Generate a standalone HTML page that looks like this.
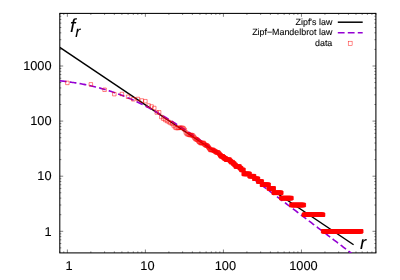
<!DOCTYPE html>
<html><head><meta charset="utf-8"><style>
html,body{margin:0;padding:0;background:#fff;}
svg{display:block}
text{font-family:"Liberation Sans",sans-serif;fill:#000;text-rendering:geometricPrecision;stroke:#000;stroke-width:0.1px}
svg{will-change:transform;opacity:0.999}
</style></head><body>
<svg width="400" height="280" viewBox="0 0 400 280">
<rect width="400" height="280" fill="#fff"/>
<path d="M59.80 247.89h1.5M375.90 247.89h-1.5M59.80 243.52h1.5M375.90 243.52h-1.5M59.80 239.84h1.5M375.90 239.84h-1.5M59.80 252.90v-1.5M59.80 13.40v1.5M59.80 236.64h1.5M375.90 236.64h-1.5M63.79 252.90v-1.5M63.79 13.40v1.5M59.80 233.82h1.5M375.90 233.82h-1.5M67.36 252.90v-3.4M67.36 13.40v3.4M59.80 231.30h3.4M375.90 231.30h-3.4M90.85 252.90v-1.5M90.85 13.40v1.5M59.80 214.71h1.5M375.90 214.71h-1.5M104.59 252.90v-1.5M104.59 13.40v1.5M59.80 205.01h1.5M375.90 205.01h-1.5M114.34 252.90v-1.5M114.34 13.40v1.5M59.80 198.13h1.5M375.90 198.13h-1.5M121.90 252.90v-1.5M121.90 13.40v1.5M59.80 192.79h1.5M375.90 192.79h-1.5M128.08 252.90v-1.5M128.08 13.40v1.5M59.80 188.42h1.5M375.90 188.42h-1.5M133.30 252.90v-1.5M133.30 13.40v1.5M59.80 184.74h1.5M375.90 184.74h-1.5M137.83 252.90v-1.5M137.83 13.40v1.5M59.80 181.54h1.5M375.90 181.54h-1.5M141.82 252.90v-1.5M141.82 13.40v1.5M59.80 178.72h1.5M375.90 178.72h-1.5M145.39 252.90v-3.4M145.39 13.40v3.4M59.80 176.20h3.4M375.90 176.20h-3.4M168.88 252.90v-1.5M168.88 13.40v1.5M59.80 159.61h1.5M375.90 159.61h-1.5M182.62 252.90v-1.5M182.62 13.40v1.5M59.80 149.91h1.5M375.90 149.91h-1.5M192.37 252.90v-1.5M192.37 13.40v1.5M59.80 143.03h1.5M375.90 143.03h-1.5M199.93 252.90v-1.5M199.93 13.40v1.5M59.80 137.69h1.5M375.90 137.69h-1.5M206.11 252.90v-1.5M206.11 13.40v1.5M59.80 133.32h1.5M375.90 133.32h-1.5M211.33 252.90v-1.5M211.33 13.40v1.5M59.80 129.64h1.5M375.90 129.64h-1.5M215.86 252.90v-1.5M215.86 13.40v1.5M59.80 126.44h1.5M375.90 126.44h-1.5M219.85 252.90v-1.5M219.85 13.40v1.5M59.80 123.62h1.5M375.90 123.62h-1.5M223.42 252.90v-3.4M223.42 13.40v3.4M59.80 121.10h3.4M375.90 121.10h-3.4M246.91 252.90v-1.5M246.91 13.40v1.5M59.80 104.51h1.5M375.90 104.51h-1.5M260.65 252.90v-1.5M260.65 13.40v1.5M59.80 94.81h1.5M375.90 94.81h-1.5M270.40 252.90v-1.5M270.40 13.40v1.5M59.80 87.93h1.5M375.90 87.93h-1.5M277.96 252.90v-1.5M277.96 13.40v1.5M59.80 82.59h1.5M375.90 82.59h-1.5M284.14 252.90v-1.5M284.14 13.40v1.5M59.80 78.22h1.5M375.90 78.22h-1.5M289.36 252.90v-1.5M289.36 13.40v1.5M59.80 74.54h1.5M375.90 74.54h-1.5M293.89 252.90v-1.5M293.89 13.40v1.5M59.80 71.34h1.5M375.90 71.34h-1.5M297.88 252.90v-1.5M297.88 13.40v1.5M59.80 68.52h1.5M375.90 68.52h-1.5M301.45 252.90v-3.4M301.45 13.40v3.4M59.80 66.00h3.4M375.90 66.00h-3.4M324.94 252.90v-1.5M324.94 13.40v1.5M59.80 49.41h1.5M375.90 49.41h-1.5M338.68 252.90v-1.5M338.68 13.40v1.5M59.80 39.71h1.5M375.90 39.71h-1.5M348.43 252.90v-1.5M348.43 13.40v1.5M59.80 32.83h1.5M375.90 32.83h-1.5M355.99 252.90v-1.5M355.99 13.40v1.5M59.80 27.49h1.5M375.90 27.49h-1.5M362.17 252.90v-1.5M362.17 13.40v1.5M59.80 23.12h1.5M375.90 23.12h-1.5M367.39 252.90v-1.5M367.39 13.40v1.5M59.80 19.44h1.5M375.90 19.44h-1.5M371.92 252.90v-1.5M371.92 13.40v1.5M59.80 16.24h1.5M375.90 16.24h-1.5M375.91 252.90v-1.5M375.91 13.40v1.5M59.80 13.42h1.5M375.90 13.42h-1.5" stroke="#000" stroke-width="0.5" fill="none"/>
<rect x="59.8" y="13.4" width="316.10" height="239.50" fill="none" stroke="#000" stroke-width="1.05"/>
<g font-size="12.8" text-anchor="end">
<text x="51.6" y="70.20">1000</text>
<text x="51.6" y="125.30">100</text>
<text x="51.6" y="180.40">10</text>
<text x="51.6" y="235.50">1</text>
</g>
<g font-size="12.8" text-anchor="middle">
<text x="69.16" y="270.4">1</text>
<text x="147.39" y="270.4">10</text>
<text x="225.42" y="270.4">100</text>
<text x="303.45" y="270.4">1000</text>
</g>
<clipPath id="c"><rect x="59.8" y="13.4" width="316.10" height="239.50"/></clipPath>
<g clip-path="url(#c)">
<path d="M59.8 47.35L353.6 244.75" stroke="#000" stroke-width="1.5" fill="none"/>
<path d="M59.80 80.79L60.85 80.91L61.91 81.03L62.96 81.15L64.01 81.28L65.07 81.41L66.12 81.54L67.17 81.68L68.23 81.82L69.28 81.97L70.34 82.11L71.39 82.27L72.44 82.42L73.50 82.58L74.55 82.74L75.60 82.91L76.66 83.08L77.71 83.26L78.76 83.44L79.82 83.63L80.87 83.82L81.93 84.01L82.98 84.21L84.03 84.41L85.09 84.62L86.14 84.83L87.19 85.05L88.25 85.27L89.30 85.50L90.36 85.73L91.41 85.97L92.46 86.22L93.52 86.46L94.57 86.72L95.62 86.98L96.68 87.24L97.73 87.51L98.79 87.79L99.84 88.07L100.89 88.36L101.95 88.65L103.00 88.95L104.05 89.26L105.11 89.57L106.16 89.88L107.21 90.21L108.27 90.54L109.32 90.87L110.38 91.21L111.43 91.56L112.48 91.91L113.54 92.27L114.59 92.64L115.64 93.01L116.70 93.39L117.75 93.77L118.81 94.16L119.86 94.56L120.91 94.96L121.97 95.37L123.02 95.79L124.07 96.21L125.13 96.64L126.18 97.07L127.24 97.51L128.29 97.96L129.34 98.41L130.40 98.87L131.45 99.34L132.50 99.81L133.56 100.28L134.61 100.77L135.66 101.26L136.72 101.75L137.77 102.25L138.83 102.76L139.88 103.27L140.93 103.79L141.99 104.31L143.04 104.84L144.09 105.38L145.15 105.92L146.20 106.47L147.26 107.02L148.31 107.58L149.36 108.14L150.42 108.71L151.47 109.28L152.52 109.86L153.58 110.44L154.63 111.03L155.69 111.62L156.74 112.22L157.79 112.82L158.85 113.43L159.90 114.04L160.95 114.66L162.01 115.28L163.06 115.90L164.11 116.53L165.17 117.16L166.22 117.80L167.28 118.44L168.33 119.09L169.38 119.74L170.44 120.39L171.49 121.05L172.54 121.71L173.60 122.37L174.65 123.04L175.71 123.71L176.76 124.39L177.81 125.07L178.87 125.75L179.92 126.43L180.97 127.12L182.03 127.81L183.08 128.51L184.14 129.20L185.19 129.90L186.24 130.61L187.30 131.31L188.35 132.02L189.40 132.73L190.46 133.44L191.51 134.16L192.56 134.88L193.62 135.60L194.67 136.32L195.73 137.05L196.78 137.77L197.83 138.50L198.89 139.23L199.94 139.97L200.99 140.70L202.05 141.44L203.10 142.18L204.16 142.92L205.21 143.66L206.26 144.41L207.32 145.15L208.37 145.90L209.42 146.65L210.48 147.40L211.53 148.15L212.59 148.91L213.64 149.66L214.69 150.42L215.75 151.18L216.80 151.94L217.85 152.70L218.91 153.46L219.96 154.23L221.01 154.99L222.07 155.76L223.12 156.52L224.18 157.29L225.23 158.06L226.28 158.83L227.34 159.60L228.39 160.37L229.44 161.15L230.50 161.92L231.55 162.70L232.61 163.47L233.66 164.25L234.71 165.03L235.77 165.80L236.82 166.58L237.87 167.36L238.93 168.14L239.98 168.92L241.04 169.71L242.09 170.49L243.14 171.27L244.20 172.06L245.25 172.84L246.30 173.62L247.36 174.41L248.41 175.20L249.46 175.98L250.52 176.77L251.57 177.56L252.63 178.35L253.68 179.14L254.73 179.92L255.79 180.71L256.84 181.50L257.89 182.29L258.95 183.09L260.00 183.88L261.06 184.67L262.11 185.46L263.16 186.25L264.22 187.05L265.27 187.84L266.32 188.63L267.38 189.43L268.43 190.22L269.49 191.02L270.54 191.81L271.59 192.60L272.65 193.40L273.70 194.20L274.75 194.99L275.81 195.79L276.86 196.58L277.91 197.38L278.97 198.18L280.02 198.97L281.08 199.77L282.13 200.57L283.18 201.37L284.24 202.17L285.29 202.96L286.34 203.76L287.40 204.56L288.45 205.36L289.51 206.16L290.56 206.96L291.61 207.76L292.67 208.56L293.72 209.35L294.77 210.15L295.83 210.95L296.88 211.75L297.94 212.55L298.99 213.35L300.04 214.15L301.10 214.95L302.15 215.76L303.20 216.56L304.26 217.36L305.31 218.16L306.37 218.96L307.42 219.76L308.47 220.56L309.53 221.36L310.58 222.16L311.63 222.97L312.69 223.77L313.74 224.57L314.79 225.37L315.85 226.17L316.90 226.97L317.96 227.78L319.01 228.58L320.06 229.38L321.12 230.18L322.17 230.98L323.22 231.79L324.28 232.59L325.33 233.39L326.39 234.19L327.44 235.00L328.49 235.80L329.55 236.60L330.60 237.40L331.65 238.21L332.71 239.01L333.76 239.81L334.82 240.62L335.87 241.42L336.92 242.22L337.98 243.02L339.03 243.83L340.08 244.63L341.14 245.43L342.19 246.24L343.24 247.04L344.30 247.84L345.35 248.65L346.41 249.45L347.46 250.25L348.51 251.06L349.57 251.86L350.62 252.66L351.67 253.47L352.73 254.27L353.78 255.07L354.84 255.88L355.89 256.68L356.94 257.48L358.00 258.29L359.05 259.09L360.10 259.90L361.16 260.70L362.21 261.50L363.27 262.31L364.32 263.11L365.37 263.91L366.43 264.72L367.48 265.52L368.53 266.32L369.59 267.13L370.64 267.93L371.69 268.74L372.75 269.54L373.80 270.34L374.86 271.15L375.91 271.95" stroke="#9400d3" stroke-width="1.6" fill="none" stroke-dasharray="6.8 3.19"/>
<path d="M218.47 153.50H222.34V157.00H218.47zM219.21 154.52H224.49V158.02H219.21zM221.33 155.58H225.84V159.08H221.33zM222.67 156.70H227.46V160.20H222.67zM224.28 157.86H231.35V161.36H224.28zM228.13 159.09H232.46V162.59H228.13zM229.23 160.38H234.58V163.88H229.23zM231.33 161.75H236.08V165.25H231.33zM232.83 163.20H237.29V166.70H232.83zM234.03 164.75H241.31V168.25H234.03zM238.02 166.40H242.95V169.90H238.02zM239.65 168.17H245.28V171.67H239.65zM241.96 172.17H251.27V175.67H241.96zM247.92 174.45H255.95V177.95H247.92zM252.59 176.97H259.82V180.47H252.59zM256.44 179.79H263.62V183.29H256.44zM260.23 182.99H270.41V186.49H260.23zM267.00 186.67H275.46V190.17H267.00zM272.03 191.04H283.06V194.54H272.03zM279.62 196.38H293.22V199.88H279.62zM289.77 203.26H305.65V206.76H289.77zM302.18 212.96H324.90V216.46H302.18zM321.42 229.55H362.91V233.05H321.42z" fill="#ff0000" stroke="#ff0000" stroke-width="0.5"/>
<path d="M65.61 81.15h3.5v3.5h-3.5zM89.10 82.60h3.5v3.5h-3.5zM102.84 88.00h3.5v3.5h-3.5zM112.59 92.40h3.5v3.5h-3.5zM120.15 92.25h3.5v3.5h-3.5zM126.33 95.00h3.5v3.5h-3.5zM131.55 97.55h3.5v3.5h-3.5zM136.08 97.25h3.5v3.5h-3.5zM140.07 98.75h3.5v3.5h-3.5zM143.64 99.45h3.5v3.5h-3.5zM146.87 103.75h3.5v3.5h-3.5zM149.82 104.75h3.5v3.5h-3.5zM152.53 106.25h3.5v3.5h-3.5zM155.04 110.75h3.5v3.5h-3.5zM157.38 110.55h3.5v3.5h-3.5zM159.57 115.25h3.5v3.5h-3.5zM161.62 116.95h3.5v3.5h-3.5zM163.56 118.25h3.5v3.5h-3.5zM165.39 119.25h3.5v3.5h-3.5zM167.13 120.25h3.5v3.5h-3.5zM168.78 121.25h3.5v3.5h-3.5zM170.36 121.85h3.5v3.5h-3.5zM171.87 123.75h3.5v3.5h-3.5zM173.31 125.55h3.5v3.5h-3.5zM174.69 126.25h3.5v3.5h-3.5zM176.02 126.25h3.5v3.5h-3.5zM177.30 126.05h3.5v3.5h-3.5zM178.53 126.05h3.5v3.5h-3.5zM179.72 126.05h3.5v3.5h-3.5zM180.87 126.05h3.5v3.5h-3.5zM181.98 126.85h3.5v3.5h-3.5zM183.06 128.25h3.5v3.5h-3.5zM184.10 130.75h3.5v3.5h-3.5zM185.11 132.25h3.5v3.5h-3.5zM186.09 132.55h3.5v3.5h-3.5zM187.05 132.85h3.5v3.5h-3.5zM187.98 133.25h3.5v3.5h-3.5zM188.88 133.25h3.5v3.5h-3.5zM189.76 133.25h3.5v3.5h-3.5zM190.62 133.66h3.5v3.5h-3.5zM191.46 134.10h3.5v3.5h-3.5zM192.27 135.46h3.5v3.5h-3.5zM193.07 136.42h3.5v3.5h-3.5zM193.85 137.42h3.5v3.5h-3.5zM194.61 137.42h3.5v3.5h-3.5zM195.35 137.93h3.5v3.5h-3.5zM196.08 138.46h3.5v3.5h-3.5zM196.80 139.55h3.5v3.5h-3.5zM197.50 140.11h3.5v3.5h-3.5zM198.18 140.69h3.5v3.5h-3.5zM198.85 141.28h3.5v3.5h-3.5zM199.51 141.28h3.5v3.5h-3.5zM200.16 141.28h3.5v3.5h-3.5zM200.79 141.28h3.5v3.5h-3.5zM201.41 141.28h3.5v3.5h-3.5zM202.02 141.28h3.5v3.5h-3.5zM202.62 142.50h3.5v3.5h-3.5zM203.21 143.14h3.5v3.5h-3.5zM203.79 143.14h3.5v3.5h-3.5zM204.36 143.80h3.5v3.5h-3.5zM204.92 143.80h3.5v3.5h-3.5zM205.47 143.80h3.5v3.5h-3.5zM206.01 144.47h3.5v3.5h-3.5zM206.55 145.17h3.5v3.5h-3.5zM207.07 145.88h3.5v3.5h-3.5zM207.59 146.62h3.5v3.5h-3.5zM208.10 147.38h3.5v3.5h-3.5zM208.60 148.16h3.5v3.5h-3.5zM209.10 148.16h3.5v3.5h-3.5zM209.58 148.16h3.5v3.5h-3.5zM210.06 148.16h3.5v3.5h-3.5zM210.54 148.16h3.5v3.5h-3.5zM211.01 148.16h3.5v3.5h-3.5zM211.47 148.16h3.5v3.5h-3.5zM211.92 148.97h3.5v3.5h-3.5zM212.37 148.97h3.5v3.5h-3.5zM212.81 148.97h3.5v3.5h-3.5zM213.25 149.81h3.5v3.5h-3.5zM213.68 149.81h3.5v3.5h-3.5zM214.11 149.81h3.5v3.5h-3.5zM214.53 150.68h3.5v3.5h-3.5zM214.94 150.68h3.5v3.5h-3.5zM215.36 150.68h3.5v3.5h-3.5zM215.76 150.68h3.5v3.5h-3.5zM216.16 150.68h3.5v3.5h-3.5zM216.56 150.68h3.5v3.5h-3.5zM216.95 151.58h3.5v3.5h-3.5zM217.34 151.58h3.5v3.5h-3.5zM217.72 152.52h3.5v3.5h-3.5zM218.10 152.52h3.5v3.5h-3.5zM218.47 153.50h3.5v3.5h-3.5zM218.84 153.50h3.5v3.5h-3.5zM219.21 154.52h3.5v3.5h-3.5zM219.57 154.52h3.5v3.5h-3.5zM219.93 154.52h3.5v3.5h-3.5zM220.29 154.52h3.5v3.5h-3.5zM220.64 154.52h3.5v3.5h-3.5zM220.99 154.52h3.5v3.5h-3.5zM221.33 155.58h3.5v3.5h-3.5zM221.67 155.58h3.5v3.5h-3.5zM222.01 155.58h3.5v3.5h-3.5zM222.34 155.58h3.5v3.5h-3.5zM222.67 156.70h3.5v3.5h-3.5zM223.00 156.70h3.5v3.5h-3.5zM223.32 156.70h3.5v3.5h-3.5zM223.64 156.70h3.5v3.5h-3.5zM223.96 156.70h3.5v3.5h-3.5zM224.28 157.86h3.5v3.5h-3.5zM224.59 157.86h3.5v3.5h-3.5zM224.90 157.86h3.5v3.5h-3.5zM225.21 157.86h3.5v3.5h-3.5zM225.51 157.86h3.5v3.5h-3.5zM225.81 157.86h3.5v3.5h-3.5zM226.41 157.86h3.5v3.5h-3.5zM226.99 157.86h3.5v3.5h-3.5zM227.56 157.86h3.5v3.5h-3.5zM228.13 159.09h3.5v3.5h-3.5zM228.69 159.09h3.5v3.5h-3.5zM229.23 160.38h3.5v3.5h-3.5zM229.77 160.38h3.5v3.5h-3.5zM230.30 160.38h3.5v3.5h-3.5zM230.82 160.38h3.5v3.5h-3.5zM231.33 161.75h3.5v3.5h-3.5zM231.84 161.75h3.5v3.5h-3.5zM232.34 161.75h3.5v3.5h-3.5zM232.83 163.20h3.5v3.5h-3.5zM233.31 163.20h3.5v3.5h-3.5zM233.79 163.20h3.5v3.5h-3.5zM234.03 164.75h3.5v3.5h-3.5zM234.49 164.75h3.5v3.5h-3.5zM234.96 164.75h3.5v3.5h-3.5zM235.41 164.75h3.5v3.5h-3.5zM235.86 164.75h3.5v3.5h-3.5zM236.30 164.75h3.5v3.5h-3.5zM236.74 164.75h3.5v3.5h-3.5zM237.17 164.75h3.5v3.5h-3.5zM237.60 164.75h3.5v3.5h-3.5zM238.02 166.40h3.5v3.5h-3.5zM238.43 166.40h3.5v3.5h-3.5zM238.85 166.40h3.5v3.5h-3.5zM239.25 166.40h3.5v3.5h-3.5zM239.65 168.17h3.5v3.5h-3.5zM240.05 168.17h3.5v3.5h-3.5zM240.44 168.17h3.5v3.5h-3.5zM240.83 168.17h3.5v3.5h-3.5zM241.21 168.17h3.5v3.5h-3.5zM241.59 168.17h3.5v3.5h-3.5zM241.96 172.17h3.5v3.5h-3.5zM242.33 172.17h3.5v3.5h-3.5zM242.70 172.17h3.5v3.5h-3.5zM243.06 172.17h3.5v3.5h-3.5zM243.42 172.17h3.5v3.5h-3.5zM243.78 172.17h3.5v3.5h-3.5zM244.13 172.17h3.5v3.5h-3.5zM244.47 172.17h3.5v3.5h-3.5zM244.82 172.17h3.5v3.5h-3.5zM245.16 172.17h3.5v3.5h-3.5zM245.50 172.17h3.5v3.5h-3.5zM245.83 172.17h3.5v3.5h-3.5zM246.16 172.17h3.5v3.5h-3.5zM246.49 172.17h3.5v3.5h-3.5zM246.81 172.17h3.5v3.5h-3.5zM247.13 172.17h3.5v3.5h-3.5zM247.45 172.17h3.5v3.5h-3.5zM247.77 172.17h3.5v3.5h-3.5zM247.92 174.45h3.5v3.5h-3.5zM248.23 174.45h3.5v3.5h-3.5zM248.54 174.45h3.5v3.5h-3.5zM248.85 174.45h3.5v3.5h-3.5zM249.15 174.45h3.5v3.5h-3.5zM249.60 174.45h3.5v3.5h-3.5zM250.04 174.45h3.5v3.5h-3.5zM250.48 174.45h3.5v3.5h-3.5zM250.91 174.45h3.5v3.5h-3.5zM251.34 174.45h3.5v3.5h-3.5zM251.76 174.45h3.5v3.5h-3.5zM252.17 174.45h3.5v3.5h-3.5zM252.59 176.97h3.5v3.5h-3.5zM252.99 176.97h3.5v3.5h-3.5zM253.39 176.97h3.5v3.5h-3.5zM253.79 176.97h3.5v3.5h-3.5zM254.18 176.97h3.5v3.5h-3.5zM254.57 176.97h3.5v3.5h-3.5zM254.95 176.97h3.5v3.5h-3.5zM255.33 176.97h3.5v3.5h-3.5zM255.70 176.97h3.5v3.5h-3.5zM256.07 176.97h3.5v3.5h-3.5zM256.44 179.79h3.5v3.5h-3.5zM256.80 179.79h3.5v3.5h-3.5zM257.16 179.79h3.5v3.5h-3.5zM257.52 179.79h3.5v3.5h-3.5zM257.87 179.79h3.5v3.5h-3.5zM258.22 179.79h3.5v3.5h-3.5zM258.56 179.79h3.5v3.5h-3.5zM258.90 179.79h3.5v3.5h-3.5zM259.24 179.79h3.5v3.5h-3.5zM259.57 179.79h3.5v3.5h-3.5zM259.90 179.79h3.5v3.5h-3.5zM260.23 182.99h3.5v3.5h-3.5zM260.55 182.99h3.5v3.5h-3.5zM260.87 182.99h3.5v3.5h-3.5zM261.19 182.99h3.5v3.5h-3.5zM261.51 182.99h3.5v3.5h-3.5zM261.82 182.99h3.5v3.5h-3.5zM262.13 182.99h3.5v3.5h-3.5zM262.44 182.99h3.5v3.5h-3.5zM262.74 182.99h3.5v3.5h-3.5zM263.04 182.99h3.5v3.5h-3.5zM263.44 182.99h3.5v3.5h-3.5zM263.83 182.99h3.5v3.5h-3.5zM264.22 182.99h3.5v3.5h-3.5zM264.60 182.99h3.5v3.5h-3.5zM264.98 182.99h3.5v3.5h-3.5zM265.36 182.99h3.5v3.5h-3.5zM265.73 182.99h3.5v3.5h-3.5zM266.10 182.99h3.5v3.5h-3.5zM266.46 182.99h3.5v3.5h-3.5zM266.82 182.99h3.5v3.5h-3.5zM267.00 186.67h3.5v3.5h-3.5zM267.35 186.67h3.5v3.5h-3.5zM267.70 186.67h3.5v3.5h-3.5zM268.05 186.67h3.5v3.5h-3.5zM268.39 186.67h3.5v3.5h-3.5zM268.73 186.67h3.5v3.5h-3.5zM269.07 186.67h3.5v3.5h-3.5zM269.40 186.67h3.5v3.5h-3.5zM269.73 186.67h3.5v3.5h-3.5zM270.06 186.67h3.5v3.5h-3.5zM270.38 186.67h3.5v3.5h-3.5zM270.70 186.67h3.5v3.5h-3.5zM271.02 186.67h3.5v3.5h-3.5zM271.34 186.67h3.5v3.5h-3.5zM271.65 186.67h3.5v3.5h-3.5zM271.96 186.67h3.5v3.5h-3.5zM272.03 191.04h3.5v3.5h-3.5zM272.34 191.04h3.5v3.5h-3.5zM272.64 191.04h3.5v3.5h-3.5zM273.01 191.04h3.5v3.5h-3.5zM273.38 191.04h3.5v3.5h-3.5zM273.75 191.04h3.5v3.5h-3.5zM274.11 191.04h3.5v3.5h-3.5zM274.47 191.04h3.5v3.5h-3.5zM274.83 191.04h3.5v3.5h-3.5zM275.18 191.04h3.5v3.5h-3.5zM275.53 191.04h3.5v3.5h-3.5zM275.87 191.04h3.5v3.5h-3.5zM276.21 191.04h3.5v3.5h-3.5zM276.55 191.04h3.5v3.5h-3.5zM276.88 191.04h3.5v3.5h-3.5zM277.21 191.04h3.5v3.5h-3.5zM277.54 191.04h3.5v3.5h-3.5zM277.86 191.04h3.5v3.5h-3.5zM278.19 191.04h3.5v3.5h-3.5zM278.50 191.04h3.5v3.5h-3.5zM278.82 191.04h3.5v3.5h-3.5zM279.13 191.04h3.5v3.5h-3.5zM279.44 191.04h3.5v3.5h-3.5zM279.62 196.38h3.5v3.5h-3.5zM279.93 196.38h3.5v3.5h-3.5zM280.23 196.38h3.5v3.5h-3.5zM280.59 196.38h3.5v3.5h-3.5zM280.95 196.38h3.5v3.5h-3.5zM281.30 196.38h3.5v3.5h-3.5zM281.65 196.38h3.5v3.5h-3.5zM281.99 196.38h3.5v3.5h-3.5zM282.33 196.38h3.5v3.5h-3.5zM282.67 196.38h3.5v3.5h-3.5zM283.00 196.38h3.5v3.5h-3.5zM283.34 196.38h3.5v3.5h-3.5zM283.66 196.38h3.5v3.5h-3.5zM283.99 196.38h3.5v3.5h-3.5zM284.31 196.38h3.5v3.5h-3.5zM284.63 196.38h3.5v3.5h-3.5zM284.94 196.38h3.5v3.5h-3.5zM285.26 196.38h3.5v3.5h-3.5zM285.57 196.38h3.5v3.5h-3.5zM285.87 196.38h3.5v3.5h-3.5zM286.18 196.38h3.5v3.5h-3.5zM286.48 196.38h3.5v3.5h-3.5zM286.83 196.38h3.5v3.5h-3.5zM287.17 196.38h3.5v3.5h-3.5zM287.52 196.38h3.5v3.5h-3.5zM287.85 196.38h3.5v3.5h-3.5zM288.19 196.38h3.5v3.5h-3.5zM288.52 196.38h3.5v3.5h-3.5zM288.85 196.38h3.5v3.5h-3.5zM289.17 196.38h3.5v3.5h-3.5zM289.50 196.38h3.5v3.5h-3.5zM289.77 203.26h3.5v3.5h-3.5zM290.09 203.26h3.5v3.5h-3.5zM290.40 203.26h3.5v3.5h-3.5zM290.71 203.26h3.5v3.5h-3.5zM291.02 203.26h3.5v3.5h-3.5zM291.32 203.26h3.5v3.5h-3.5zM291.63 203.26h3.5v3.5h-3.5zM291.97 203.26h3.5v3.5h-3.5zM292.31 203.26h3.5v3.5h-3.5zM292.64 203.26h3.5v3.5h-3.5zM292.97 203.26h3.5v3.5h-3.5zM293.30 203.26h3.5v3.5h-3.5zM293.63 203.26h3.5v3.5h-3.5zM293.95 203.26h3.5v3.5h-3.5zM294.27 203.26h3.5v3.5h-3.5zM294.59 203.26h3.5v3.5h-3.5zM294.90 203.26h3.5v3.5h-3.5zM295.21 203.26h3.5v3.5h-3.5zM295.52 203.26h3.5v3.5h-3.5zM295.83 203.26h3.5v3.5h-3.5zM296.13 203.26h3.5v3.5h-3.5zM296.47 203.26h3.5v3.5h-3.5zM296.80 203.26h3.5v3.5h-3.5zM297.13 203.26h3.5v3.5h-3.5zM297.46 203.26h3.5v3.5h-3.5zM297.78 203.26h3.5v3.5h-3.5zM298.10 203.26h3.5v3.5h-3.5zM298.42 203.26h3.5v3.5h-3.5zM298.74 203.26h3.5v3.5h-3.5zM299.05 203.26h3.5v3.5h-3.5zM299.36 203.26h3.5v3.5h-3.5zM299.67 203.26h3.5v3.5h-3.5zM299.97 203.26h3.5v3.5h-3.5zM300.27 203.26h3.5v3.5h-3.5zM300.60 203.26h3.5v3.5h-3.5zM300.93 203.26h3.5v3.5h-3.5zM301.26 203.26h3.5v3.5h-3.5zM301.58 203.26h3.5v3.5h-3.5zM301.90 203.26h3.5v3.5h-3.5zM302.18 212.96h3.5v3.5h-3.5zM302.50 212.96h3.5v3.5h-3.5zM302.81 212.96h3.5v3.5h-3.5zM303.11 212.96h3.5v3.5h-3.5zM303.42 212.96h3.5v3.5h-3.5zM303.72 212.96h3.5v3.5h-3.5zM304.05 212.96h3.5v3.5h-3.5zM304.38 212.96h3.5v3.5h-3.5zM304.70 212.96h3.5v3.5h-3.5zM305.02 212.96h3.5v3.5h-3.5zM305.34 212.96h3.5v3.5h-3.5zM305.65 212.96h3.5v3.5h-3.5zM305.96 212.96h3.5v3.5h-3.5zM306.27 212.96h3.5v3.5h-3.5zM306.58 212.96h3.5v3.5h-3.5zM306.88 212.96h3.5v3.5h-3.5zM307.18 212.96h3.5v3.5h-3.5zM307.51 212.96h3.5v3.5h-3.5zM307.83 212.96h3.5v3.5h-3.5zM308.14 212.96h3.5v3.5h-3.5zM308.46 212.96h3.5v3.5h-3.5zM308.77 212.96h3.5v3.5h-3.5zM309.08 212.96h3.5v3.5h-3.5zM309.39 212.96h3.5v3.5h-3.5zM309.69 212.96h3.5v3.5h-3.5zM310.00 212.96h3.5v3.5h-3.5zM310.32 212.96h3.5v3.5h-3.5zM310.64 212.96h3.5v3.5h-3.5zM310.96 212.96h3.5v3.5h-3.5zM311.27 212.96h3.5v3.5h-3.5zM311.58 212.96h3.5v3.5h-3.5zM311.89 212.96h3.5v3.5h-3.5zM312.20 212.96h3.5v3.5h-3.5zM312.50 212.96h3.5v3.5h-3.5zM312.80 212.96h3.5v3.5h-3.5zM313.12 212.96h3.5v3.5h-3.5zM313.44 212.96h3.5v3.5h-3.5zM313.76 212.96h3.5v3.5h-3.5zM314.07 212.96h3.5v3.5h-3.5zM314.38 212.96h3.5v3.5h-3.5zM314.68 212.96h3.5v3.5h-3.5zM314.99 212.96h3.5v3.5h-3.5zM315.29 212.96h3.5v3.5h-3.5zM315.61 212.96h3.5v3.5h-3.5zM315.92 212.96h3.5v3.5h-3.5zM316.24 212.96h3.5v3.5h-3.5zM316.55 212.96h3.5v3.5h-3.5zM316.85 212.96h3.5v3.5h-3.5zM317.16 212.96h3.5v3.5h-3.5zM317.46 212.96h3.5v3.5h-3.5zM317.78 212.96h3.5v3.5h-3.5zM318.10 212.96h3.5v3.5h-3.5zM318.41 212.96h3.5v3.5h-3.5zM318.72 212.96h3.5v3.5h-3.5zM319.03 212.96h3.5v3.5h-3.5zM319.34 212.96h3.5v3.5h-3.5zM319.64 212.96h3.5v3.5h-3.5zM319.96 212.96h3.5v3.5h-3.5zM320.27 212.96h3.5v3.5h-3.5zM320.58 212.96h3.5v3.5h-3.5zM320.89 212.96h3.5v3.5h-3.5zM321.20 212.96h3.5v3.5h-3.5zM321.42 229.55h3.5v3.5h-3.5zM321.72 229.55h3.5v3.5h-3.5zM322.03 229.55h3.5v3.5h-3.5zM322.35 229.55h3.5v3.5h-3.5zM322.66 229.55h3.5v3.5h-3.5zM322.97 229.55h3.5v3.5h-3.5zM323.27 229.55h3.5v3.5h-3.5zM323.58 229.55h3.5v3.5h-3.5zM323.88 229.55h3.5v3.5h-3.5zM324.19 229.55h3.5v3.5h-3.5zM324.50 229.55h3.5v3.5h-3.5zM324.81 229.55h3.5v3.5h-3.5zM325.12 229.55h3.5v3.5h-3.5zM325.42 229.55h3.5v3.5h-3.5zM325.72 229.55h3.5v3.5h-3.5zM326.03 229.55h3.5v3.5h-3.5zM326.34 229.55h3.5v3.5h-3.5zM326.65 229.55h3.5v3.5h-3.5zM326.95 229.55h3.5v3.5h-3.5zM327.26 229.55h3.5v3.5h-3.5zM327.57 229.55h3.5v3.5h-3.5zM327.88 229.55h3.5v3.5h-3.5zM328.19 229.55h3.5v3.5h-3.5zM328.50 229.55h3.5v3.5h-3.5zM328.80 229.55h3.5v3.5h-3.5zM329.10 229.55h3.5v3.5h-3.5zM329.41 229.55h3.5v3.5h-3.5zM329.72 229.55h3.5v3.5h-3.5zM330.03 229.55h3.5v3.5h-3.5zM330.33 229.55h3.5v3.5h-3.5zM330.63 229.55h3.5v3.5h-3.5zM330.94 229.55h3.5v3.5h-3.5zM331.25 229.55h3.5v3.5h-3.5zM331.55 229.55h3.5v3.5h-3.5zM331.86 229.55h3.5v3.5h-3.5zM332.16 229.55h3.5v3.5h-3.5zM332.47 229.55h3.5v3.5h-3.5zM332.78 229.55h3.5v3.5h-3.5zM333.08 229.55h3.5v3.5h-3.5zM333.38 229.55h3.5v3.5h-3.5zM333.70 229.55h3.5v3.5h-3.5zM334.01 229.55h3.5v3.5h-3.5zM334.31 229.55h3.5v3.5h-3.5zM334.62 229.55h3.5v3.5h-3.5zM334.92 229.55h3.5v3.5h-3.5zM335.23 229.55h3.5v3.5h-3.5zM335.53 229.55h3.5v3.5h-3.5zM335.84 229.55h3.5v3.5h-3.5zM336.14 229.55h3.5v3.5h-3.5zM336.45 229.55h3.5v3.5h-3.5zM336.76 229.55h3.5v3.5h-3.5zM337.07 229.55h3.5v3.5h-3.5zM337.37 229.55h3.5v3.5h-3.5zM337.68 229.55h3.5v3.5h-3.5zM337.99 229.55h3.5v3.5h-3.5zM338.29 229.55h3.5v3.5h-3.5zM338.59 229.55h3.5v3.5h-3.5zM338.90 229.55h3.5v3.5h-3.5zM339.21 229.55h3.5v3.5h-3.5zM339.52 229.55h3.5v3.5h-3.5zM339.82 229.55h3.5v3.5h-3.5zM340.13 229.55h3.5v3.5h-3.5zM340.44 229.55h3.5v3.5h-3.5zM340.74 229.55h3.5v3.5h-3.5zM341.04 229.55h3.5v3.5h-3.5zM341.35 229.55h3.5v3.5h-3.5zM341.66 229.55h3.5v3.5h-3.5zM341.96 229.55h3.5v3.5h-3.5zM342.26 229.55h3.5v3.5h-3.5zM342.57 229.55h3.5v3.5h-3.5zM342.87 229.55h3.5v3.5h-3.5zM343.17 229.55h3.5v3.5h-3.5zM343.48 229.55h3.5v3.5h-3.5zM343.79 229.55h3.5v3.5h-3.5zM344.09 229.55h3.5v3.5h-3.5zM344.39 229.55h3.5v3.5h-3.5zM344.70 229.55h3.5v3.5h-3.5zM345.00 229.55h3.5v3.5h-3.5zM345.30 229.55h3.5v3.5h-3.5zM345.61 229.55h3.5v3.5h-3.5zM345.92 229.55h3.5v3.5h-3.5zM346.22 229.55h3.5v3.5h-3.5zM346.53 229.55h3.5v3.5h-3.5zM346.83 229.55h3.5v3.5h-3.5zM347.13 229.55h3.5v3.5h-3.5zM347.44 229.55h3.5v3.5h-3.5zM347.75 229.55h3.5v3.5h-3.5zM348.05 229.55h3.5v3.5h-3.5zM348.36 229.55h3.5v3.5h-3.5zM348.66 229.55h3.5v3.5h-3.5zM348.96 229.55h3.5v3.5h-3.5zM349.27 229.55h3.5v3.5h-3.5zM349.58 229.55h3.5v3.5h-3.5zM349.88 229.55h3.5v3.5h-3.5zM350.18 229.55h3.5v3.5h-3.5zM350.49 229.55h3.5v3.5h-3.5zM350.79 229.55h3.5v3.5h-3.5zM351.10 229.55h3.5v3.5h-3.5zM351.40 229.55h3.5v3.5h-3.5zM351.70 229.55h3.5v3.5h-3.5zM352.01 229.55h3.5v3.5h-3.5zM352.31 229.55h3.5v3.5h-3.5zM352.61 229.55h3.5v3.5h-3.5zM352.91 229.55h3.5v3.5h-3.5zM353.22 229.55h3.5v3.5h-3.5zM353.52 229.55h3.5v3.5h-3.5zM353.82 229.55h3.5v3.5h-3.5zM354.13 229.55h3.5v3.5h-3.5zM354.43 229.55h3.5v3.5h-3.5zM354.73 229.55h3.5v3.5h-3.5zM355.04 229.55h3.5v3.5h-3.5zM355.34 229.55h3.5v3.5h-3.5zM355.64 229.55h3.5v3.5h-3.5zM355.95 229.55h3.5v3.5h-3.5zM356.25 229.55h3.5v3.5h-3.5zM356.55 229.55h3.5v3.5h-3.5zM356.85 229.55h3.5v3.5h-3.5zM357.16 229.55h3.5v3.5h-3.5zM357.46 229.55h3.5v3.5h-3.5zM357.76 229.55h3.5v3.5h-3.5zM358.07 229.55h3.5v3.5h-3.5zM358.37 229.55h3.5v3.5h-3.5zM358.67 229.55h3.5v3.5h-3.5zM358.98 229.55h3.5v3.5h-3.5zM359.28 229.55h3.5v3.5h-3.5zM359.41 229.55h3.5v3.5h-3.5z" stroke="#ff0000" stroke-width="0.5" fill="none"/>
</g>
<text x="70.1" y="32.1" font-size="19" font-style="italic">f</text>
<text x="75.2" y="37.3" font-size="15.5" font-style="italic">r</text>
<text x="360" y="249.2" font-size="18.5" font-style="italic">r</text>
<g font-size="8.9" text-anchor="end" style="stroke:none">
<text x="332.3" y="24.5">Zipf's law</text>
<text x="332.3" y="35.15">Zipf−Mandelbrot law</text>
<text x="332.3" y="45.8">data</text>
</g>
<path d="M337.8 22.2H362.7" stroke="#000" stroke-width="1.5"/>
<path d="M337.8 32.8H362.7" stroke="#9400d3" stroke-width="1.6" stroke-dasharray="6.8 3.19"/>
<rect x="348.2" y="41.2" width="3.9" height="4.5" fill="none" stroke="#ff0000" stroke-width="0.45"/>
</svg>
</body></html>
